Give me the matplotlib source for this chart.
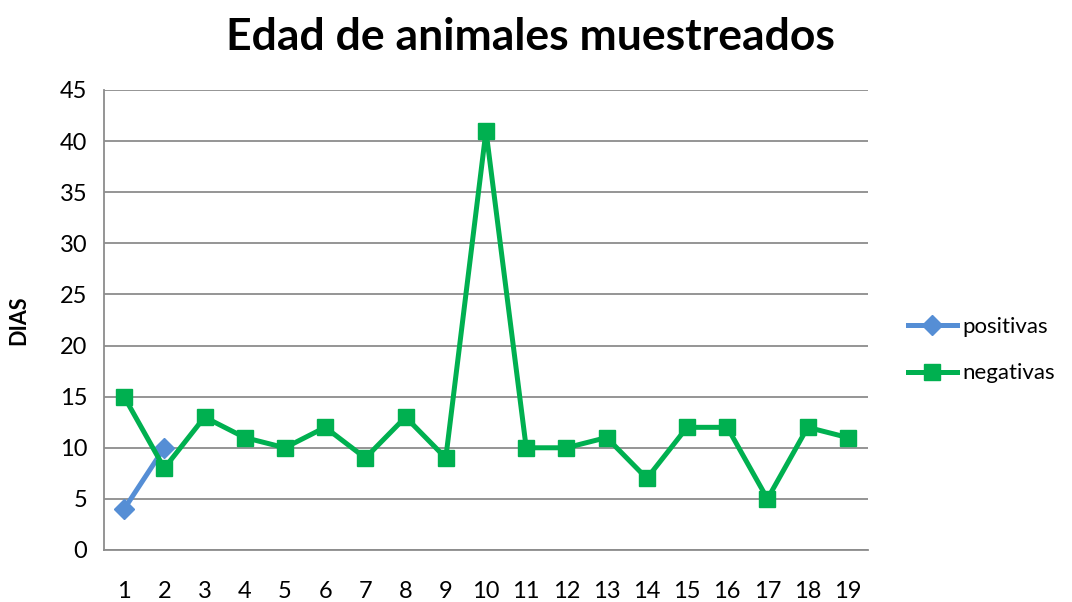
import matplotlib
matplotlib.use("Agg")
import matplotlib.pyplot as plt

categories = [str(i) for i in range(1, 20)]
positivas = [4, 10]
negativas = [15, 8, 13, 11, 10, 12, 9, 13, 9, 41, 10, 10, 11, 7, 12, 12, 5, 12, 11]
yticks = [0, 5, 10, 15, 20, 25, 30, 35, 40, 45]

plt.rcParams['font.family'] = ['Lato', 'DejaVu Sans']

fig = plt.figure(figsize=(10.72, 6.02), dpi=100)
ax = fig.add_axes([104/1072, 1-550/602, (868-104)/1072, (550-90)/602])

x = list(range(len(categories)))
ax.plot(x[:len(positivas)], positivas, color='#558ED5', lw=3.6, marker='D',
        markersize=10, label='positivas', zorder=3)
ax.plot(x, negativas, color='#00B050', lw=3.6, marker='s',
        markersize=11.5, label='negativas', zorder=4)

ax.set_xlim(-0.5, len(categories) - 0.5)
ax.set_ylim(0, 45)
ax.set_yticks(yticks)
ax.set_xticks(x)
ax.set_xticklabels(categories)
ax.tick_params(axis='both', length=0, labelsize=17, colors='black')
ax.tick_params(axis='x', pad=22)
ax.tick_params(axis='y', pad=12)
ax.grid(axis='y', color='#8c8c8c', lw=1.3)
ax.set_axisbelow(True)
for s in ['top', 'right']:
    ax.spines[s].set_visible(False)
ax.spines['left'].set_color('#8c8c8c')
ax.spines['left'].set_linewidth(1.3)
ax.spines['bottom'].set_color('#8c8c8c')
ax.spines['bottom'].set_linewidth(1.3)

ax.set_ylabel('DIAS', fontsize=15.5, fontweight='bold', labelpad=22)
fig.suptitle('Edad de animales muestreados', fontsize=32, fontweight='bold',
             x=530/1072, y=0.972, va='top')

handles, labels = ax.get_legend_handles_labels()
fig.legend(handles, labels, loc='center left', bbox_to_anchor=(908/1072, 1-350/602),
           frameon=False, fontsize=16, handlelength=2.2, handletextpad=0.25,
           labelspacing=1.2, borderpad=0, borderaxespad=0)

fig.savefig('out.png', dpi=100)
